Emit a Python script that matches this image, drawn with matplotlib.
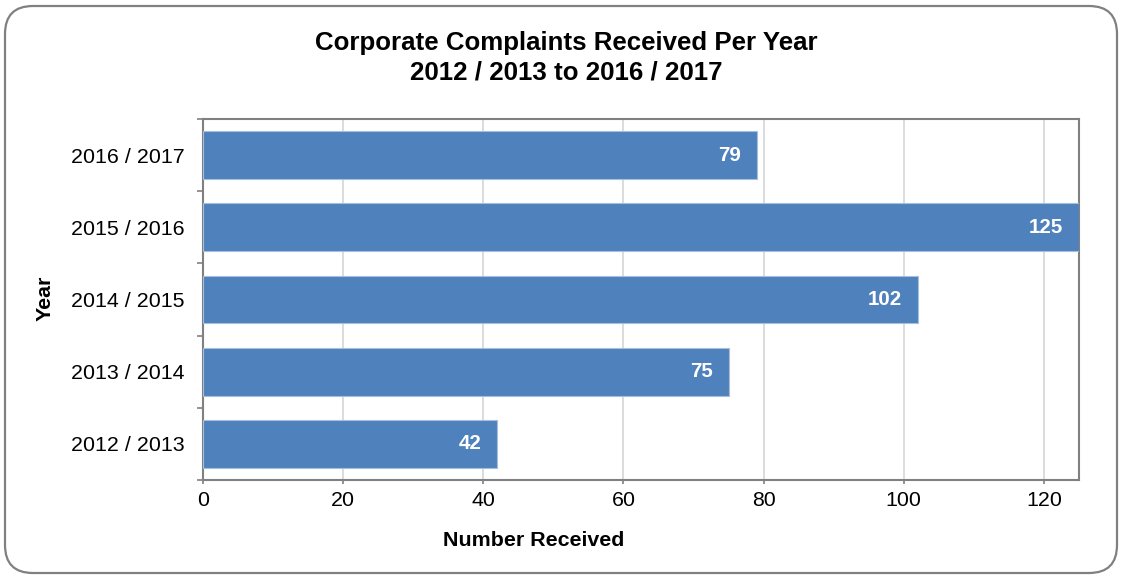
import matplotlib
matplotlib.use("Agg")
import matplotlib.pyplot as plt
from matplotlib.patches import FancyBboxPatch

years = ["2012 / 2013", "2013 / 2014", "2014 / 2015", "2015 / 2016", "2016 / 2017"]
counts = [42, 75, 102, 125, 79]
x_ticks = [0, 20, 40, 60, 80, 100, 120]

plt.rcParams['font.family'] = ['Liberation Sans', 'DejaVu Sans']

DPI = 100
fig = plt.figure(figsize=(11.23, 5.79), dpi=DPI)
ax = fig.add_axes([203/1123, 1 - 480/579, (1079-203)/1123, (480-119)/579])

bar_color = '#4F81BD'
ypos = list(range(len(years)))
ax.barh(ypos, counts, height=0.66, color=bar_color, edgecolor='#A7BFDE', linewidth=0.8, zorder=3)

for y, v in zip(ypos, counts):
    ax.text(v - 2.3, y, str(v), ha='right', va='center', color='white',
            fontsize=14.8, fontweight='bold', zorder=4)

ax.set_xlim(0, 125)
ax.set_ylim(-0.5, len(years) - 0.5)
ax.set_xticks(x_ticks)
ax.set_xticklabels([str(t) for t in x_ticks], fontsize=15.4)
ax.set_yticks(ypos)
ax.set_yticklabels(years, fontsize=15.4)
ax.set_yticks([i - 0.5 for i in range(len(years) + 1)], minor=True)

ax.tick_params(axis='y', which='major', length=0, pad=13)
ax.tick_params(axis='y', which='minor', length=4.5, width=1.2, color='#808080')
ax.tick_params(axis='x', which='major', length=3, width=1.2, color='#808080', pad=5)

ax.grid(axis='x', color='#D9D9D9', linewidth=1.3, zorder=0)
ax.set_axisbelow(True)
for s in ax.spines.values():
    s.set_color('#808080')
    s.set_linewidth(1.5)

fig.text(566/1123, 1 - 43/579, "Corporate Complaints Received Per Year", ha='center', va='center',
         fontsize=18.6, fontweight='bold')
fig.text(566/1123, 1 - 73/579, "2012 / 2013 to 2016 / 2017", ha='center', va='center',
         fontsize=18.6, fontweight='bold')
fig.text(534/1123, 1 - 541/579, "Number Received", ha='center', va='center',
         fontsize=15.4, fontweight='bold')
fig.text(45/1123, 1 - 298/579, "Year", ha='center', va='center', rotation=90,
         fontsize=15.4, fontweight='bold')

border = FancyBboxPatch((5, 6), 1112, 567, boxstyle="round,pad=0,rounding_size=28",
                        transform=None, fill=False, edgecolor='#808080', linewidth=1.6)
fig.patches.append(border)

fig.savefig("out.png", dpi=DPI)
